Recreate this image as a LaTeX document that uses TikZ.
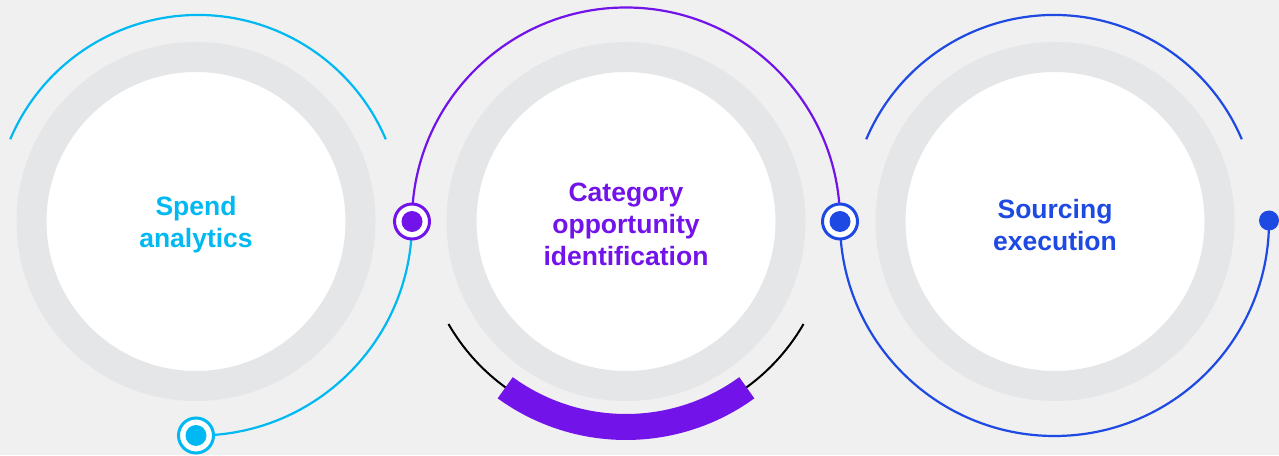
\documentclass[tikz,border=0pt]{standalone}
\usepackage{fontspec}
\setmainfont{Liberation Sans}
\usetikzlibrary{calc}
\definecolor{bgc}{HTML}{F0F0F0}
\definecolor{ringc}{HTML}{E5E6E8}
\definecolor{cyanc}{HTML}{00B9F2}
\definecolor{purpc}{HTML}{7213EA}
\definecolor{bluec}{HTML}{1E49E2}
\begin{document}
\begin{tikzpicture}[x=1pt,y=1pt,
  ring/.style={circle,fill=white,draw=ringc,line width=30pt,minimum size=329pt,inner sep=0pt},
  label text/.style={align=center,inner sep=0pt,font=\fontsize{26.5}{32}\selectfont\bfseries},
  dotring/.style={circle,fill=white,draw=#1,line width=3pt,minimum size=35pt,inner sep=0pt},
  dotfill/.style={circle,fill=#1,minimum size=21pt,inner sep=0pt},
  arcline/.style={draw=#1,line width=2.2pt}]
\fill[bgc] (0,0) rectangle (1279,455);
\useasboundingbox (0,0) rectangle (1279,455);
% rings
\node[ring] (n1) at (196,233.5) {};
\node[ring] (n2) at (626,233.5) {};
\node[ring] (n3) at (1055,233.5) {};
\node[label text,text=cyanc] (t1) at ($(n1.center)+(0,-3.5)$) {Spend\\analytics};
\node[label text,text=purpc] (t2) at ($(n2.center)+(0,-3)$) {Category\\opportunity\\identification};
\node[label text,text=bluec] (t3) at ($(n3.center)+(0,-3.5)$) {Sourcing\\execution};
% upper arcs
\coordinate (u1) at ($(n1.center)+(2,2.5)+(157:204)$);
\draw[arcline=cyanc] (u1) arc[start angle=157,end angle=23,radius=204];
\coordinate (u3) at ($(n3.center)+(-1,2.5)+(157:204)$);
\draw[arcline=bluec] (u3) arc[start angle=157,end angle=23,radius=204];
% connecting points
\coordinate (p1) at ($(n1.center)+(216,0)$);
\coordinate (p0) at ($(n1.center)+(0,-214)$);
\coordinate (p2) at ($(n2.center)+(214,0)$);
\coordinate (p3) at ($(n3.center)+(214,0)$);
% connectors
\draw[arcline=cyanc] (p1) arc[start angle=0,end angle=-90,radius=214];
\draw[arcline=purpc] (p1) arc[start angle=180,end angle=0,radius=214];
\draw[arcline=bluec] (p2) arc[start angle=180,end angle=360,radius=214.5];
% lower arcs of circle 2
\coordinate (b1) at ($(n2.center)+(210:205)$);
\draw[black,line width=2pt] (b1) arc[start angle=210,end angle=330,radius=205];
\coordinate (b2) at ($(n2.center)+(234:205.5)$);
\draw[purpc,line width=26pt] (b2) arc[start angle=234,end angle=306,radius=205.5];
% dots
\node[dotring=cyanc] (d0) at (p0) {};
\node[dotfill=cyanc] (d0i) at (d0) {};
\node[dotring=purpc] (d1) at (p1) {};
\node[dotfill=purpc] (d1i) at (d1) {};
\node[dotring=bluec] (d2) at (p2) {};
\node[dotfill=bluec] (d2i) at (d2) {};
\node[dotfill=bluec,minimum size=20pt] (d3) at ($(p3)+(0,1)$) {};
\end{tikzpicture}
\end{document}
